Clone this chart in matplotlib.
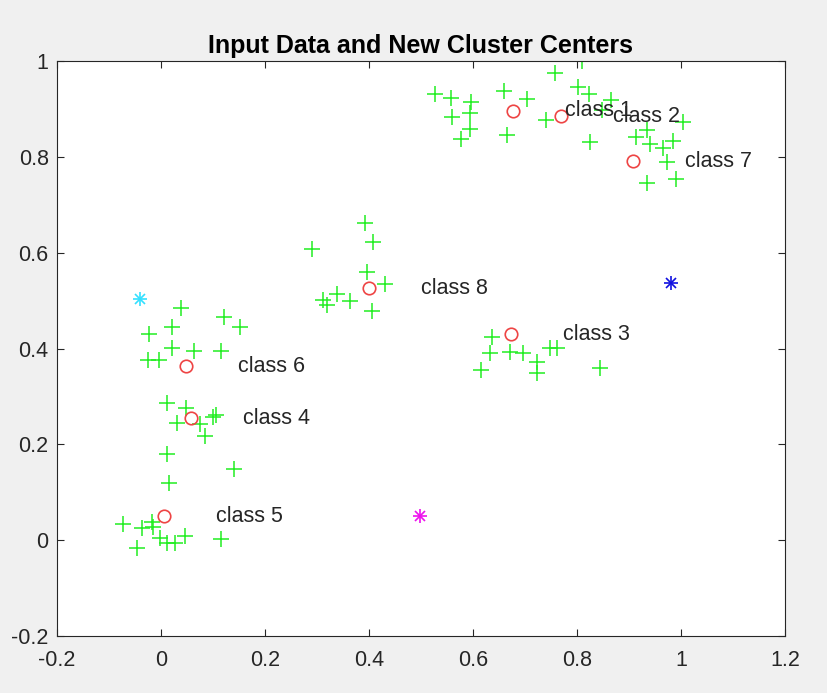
import matplotlib
matplotlib.use("Agg")
import matplotlib.pyplot as plt

plt.rcParams['font.family'] = ['Liberation Sans', 'DejaVu Sans']

data_x = [0.527, 0.558, 0.596, 0.560, 0.594, 0.594, 0.577, 0.660, 0.704, 0.665,
          0.758, 0.810, 0.802, 0.823, 0.865, 0.740, 0.825, 0.848, 0.913, 0.935,
          0.940, 0.965, 0.985, 1.004, 0.973, 0.935, 0.990,
          0.038, 0.121, 0.152, 0.021, -0.023, 0.021, 0.063, 0.115, -0.025, -0.004,
          0.012, 0.048, 0.031, 0.075, 0.100, 0.106, 0.085, 0.012,
          0.140, 0.015, -0.073, -0.037, -0.017, -0.015, -0.002, 0.012, 0.027, 0.046,
          -0.046, 0.115,
          0.392, 0.408, 0.290, 0.396, 0.431, 0.338, 0.312, 0.319, 0.363, 0.406,
          0.637, 0.633, 0.671, 0.696, 0.723, 0.723, 0.615, 0.748, 0.762, 0.844]
data_y = [0.931, 0.923, 0.914, 0.883, 0.891, 0.858, 0.837, 0.937, 0.921, 0.846,
          0.975, 1.000, 0.946, 0.931, 0.919, 0.877, 0.831, 0.898, 0.841, 0.856,
          0.827, 0.818, 0.833, 0.873, 0.789, 0.745, 0.754,
          0.484, 0.466, 0.445, 0.445, 0.430, 0.401, 0.395, 0.395, 0.376, 0.376,
          0.286, 0.276, 0.244, 0.242, 0.257, 0.261, 0.217, 0.180,
          0.148, 0.119, 0.033, 0.025, 0.038, 0.027, 0.004, -0.006, -0.006, 0.010,
          -0.017, 0.002,
          0.662, 0.622, 0.608, 0.559, 0.534, 0.514, 0.501, 0.491, 0.499, 0.478,
          0.424, 0.390, 0.392, 0.390, 0.372, 0.349, 0.355, 0.401, 0.401, 0.359]

center_x = [0.677, 0.769, 0.673, 0.058, 0.006, 0.048, 0.908, 0.400]
center_y = [0.896, 0.885, 0.430, 0.255, 0.050, 0.363, 0.791, 0.526]
class_labels = ['class 1', 'class 2', 'class 3', 'class 4', 'class 5',
                'class 6', 'class 7', 'class 8']

star_x = [-0.040, 0.981, 0.498]
star_y = [0.503, 0.537, 0.050]
star_colors = ['#33e0ff', '#1010e0', '#ee10ee']

xticks = [-0.2, 0, 0.2, 0.4, 0.6, 0.8, 1, 1.2]
yticks = [-0.2, 0, 0.2, 0.4, 0.6, 0.8, 1]

fig = plt.figure(figsize=(8.27, 6.93), dpi=100, facecolor='#f0f0f0')
ax = fig.add_axes([0.069, 0.082, 0.880, 0.830])
ax.set_facecolor('white')

ax.plot(data_x, data_y, '+', color='#22ee22', markersize=11, markeredgewidth=1.1, linestyle='none')
ax.plot(center_x, center_y, 'o', color='#ee4444', markerfacecolor='none', markersize=9, markeredgewidth=1.2, linestyle='none')
for sx, sy, sc in zip(star_x, star_y, star_colors):
    ax.plot(sx, sy, '+', color=sc, markersize=10, markeredgewidth=1.2)
    ax.plot(sx, sy, 'x', color=sc, markersize=7, markeredgewidth=1.2)

for cx, cy, lab in zip(center_x, center_y, class_labels):
    ax.text(cx + 0.1, cy, lab, fontsize=15.5, color='#262626', va='center', ha='left')

ax.set_xlim(-0.2, 1.2)
ax.set_ylim(-0.2, 1)
ax.set_xticks(xticks)
ax.set_xticklabels(['-0.2', '0', '0.2', '0.4', '0.6', '0.8', '1', '1.2'])
ax.set_yticks(yticks)
ax.set_yticklabels(['-0.2', '0', '0.2', '0.4', '0.6', '0.8', '1'])
ax.tick_params(direction='in', top=True, right=True, labelsize=15.5, colors='#262626', length=5)
ax.tick_params(axis='x', pad=10)
ax.tick_params(axis='y', pad=6)
for sp in ax.spines.values():
    sp.set_color('#262626')
    sp.set_linewidth(0.8)
ax.set_title('Input Data and New Cluster Centers', fontsize=18, fontweight='bold', pad=6)

fig.savefig('out.png', dpi=100, facecolor=fig.get_facecolor())
